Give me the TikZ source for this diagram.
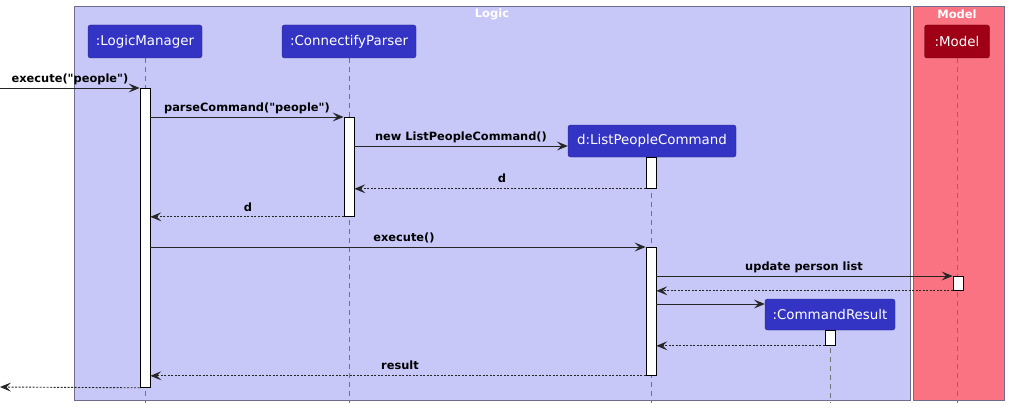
\documentclass[tikz,border=0pt]{standalone}
\usepackage{fontspec}
\setmainfont{DejaVu Sans}[Ligatures=TeXOff]
\usetikzlibrary{arrows.meta}
\definecolor{logicbg}{RGB}{200,200,248}
\definecolor{modelbg}{RGB}{249,115,130}
\definecolor{partblue}{RGB}{51,51,196}
\definecolor{partred}{RGB}{160,0,22}
\definecolor{frameline}{RGB}{110,110,140}
\tikzset{
  grp/.style={draw=frameline, line width=0.8pt},
  grptitle/.style={text=white, font=\fontsize{11.5}{13}\selectfont\bfseries, inner sep=0pt},
  part/.style={draw=partblue!70!black, fill=partblue, text=white, rounded corners=2.5pt,
     font=\fontsize{13.4}{15}\selectfont, inner sep=0pt, minimum height=33pt},
  partr/.style={part, draw=partred!70!black, fill=partred},
  life/.style={draw=black!55, line width=0.7pt, dash pattern=on 5pt off 4pt},
  act/.style={draw=black, fill=white, line width=0.8pt, minimum width=10pt, inner sep=0pt, anchor=north},
  msg/.style={draw=black!85, line width=0.9pt, -{Stealth[length=11pt,width=9pt,inset=4.5pt]}},
  ret/.style={msg, dash pattern=on 2pt off 1.5pt},
  lbl/.style={font=\fontsize{11.4}{13}\selectfont\bfseries, inner sep=0pt, anchor=base}
}
\begin{document}
\begin{tikzpicture}[x=1pt,y=-1pt]
\useasboundingbox (0,0) rectangle (1009,412);
% group boxes
\draw[grp, fill=logicbg] (74,6) rectangle (910,400);
\draw[grp, fill=modelbg] (913,6) rectangle (1004,400);
\node[grptitle] (tLogic) at (492,14.5) {Logic};
\node[grptitle] (tModel) at (957,14.5) {Model};
% lifelines
\draw[life] (145,58) -- (145,403);
\draw[life] (349,58) -- (349,403);
\draw[life] (957,58) -- (957,403);
\draw[life] (651,157) -- (651,403);
\draw[life] (830,330) -- (830,403);
% participants
\node[part, minimum width=114pt] (lm) at (145,41.5) {:LogicManager};
\node[part, minimum width=134pt] (cp) at (349,41.5) {:ConnectifyParser};
\node[partr, minimum width=65pt] (mo) at (957,41.5) {:Model};
\node[part, minimum width=168pt, minimum height=32pt] (lp) at (652,141) {d:ListPeopleCommand};
\node[part, minimum width=130pt, minimum height=31pt] (cr) at (830,314.5) {:CommandResult};
% activation bars
\node[act, minimum height=299pt] (lmA) at (145,88) {};
\node[act, minimum height=99pt] (cpA) at (349,117) {};
\node[act, minimum height=31pt] (lpA1) at (651,157) {};
\node[act, minimum height=128pt] (lpA2) at (651,247) {};
\node[act, minimum height=14pt] (moA) at (958,276) {};
\node[act, minimum height=15pt] (crA) at (830,330) {};
\coordinate (inL) at (0,88);
\coordinate (outL) at (0,387);
% messages
\draw[msg] (inL) -- (lmA.west |- inL);
\node[lbl] (l1) at (70,82) {execute("people")};
\draw[msg] (lmA.east |- 0,117) -- (cpA.west |- 0,117);
\node[lbl] (l2) at (247,111) {parseCommand("people")};
\draw[msg] (cpA.east |- 0,146) -- (lp.west |- 0,146);
\node[lbl] (l3) at (461,140) {new ListPeopleCommand()};
\draw[ret] (lpA1.south west) -- (cpA.east |- lpA1.south west);
\node[lbl] (l4) at (502,182) {d};
\draw[ret] (cpA.south west) -- (lmA.east |- cpA.south west);
\node[lbl] (l5) at (248,211) {d};
\draw[msg] (lmA.east |- lpA2.north) -- (lpA2.north west);
\node[lbl] (l6) at (404,241) {execute()};
\draw[msg] (lpA2.east |- moA.north) -- (moA.north west);
\node[lbl] (l7) at (804,270) {update person list};
\draw[ret] (moA.south west) -- (lpA2.east |- moA.south west);
\draw[msg] (lpA2.east |- 0,304) -- (cr.west |- 0,304);
\draw[ret] (crA.south west) -- (lpA2.east |- crA.south west);
\draw[ret] (lpA2.south west) -- (lmA.east |- lpA2.south west);
\node[lbl] (l8) at (400,369) {result};
\draw[ret] (lmA.south west) -- (outL);
\end{tikzpicture}
\end{document}
